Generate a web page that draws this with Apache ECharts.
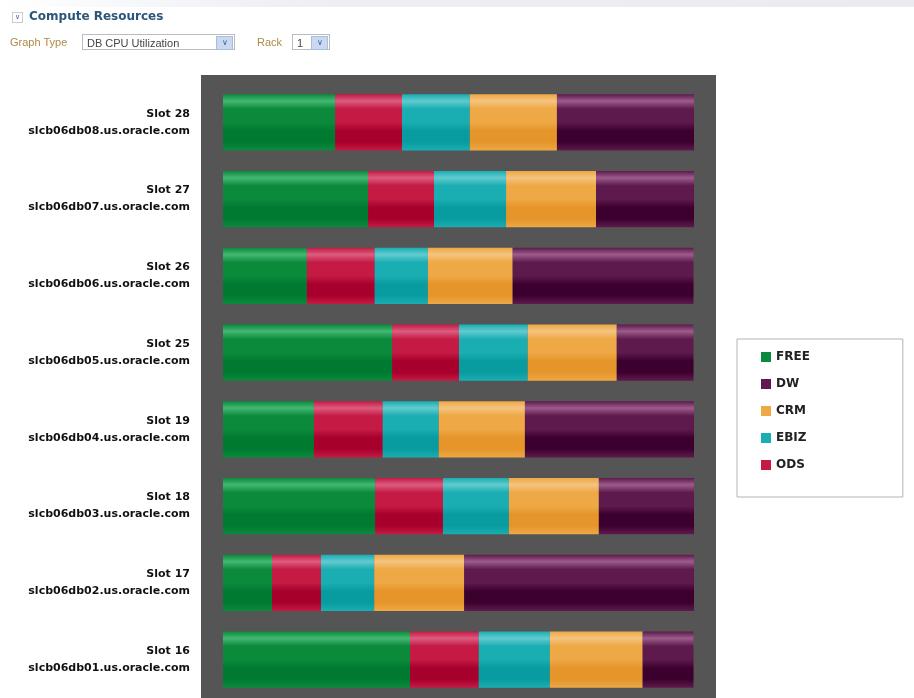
<!DOCTYPE html>
<html>
<head>
<meta charset="utf-8">
<script src="https://cdn.jsdelivr.net/npm/echarts@6/dist/echarts.min.js"></script>
<style>
    html, body { margin: 0; padding: 0; background: #ffffff; }
    #wrap { position: relative; width: 914px; height: 698px; overflow: hidden; }
    #chart { position: absolute; left: 0; top: 0; width: 914px; height: 698px; }
    .topbar { position: absolute; left: 0; top: 0; width: 914px; height: 7px;
        background: linear-gradient(to right, #ffffff 0%, #eef0f4 30%, #e9ebf0 100%); }
    .head { position: absolute; left: 12px; top: 9px; font: bold 12px "DejaVu Sans", sans-serif; color: #2c5577; }
    .head .chev { display: inline-block; width: 9px; height: 9px; border: 1px solid #c9ccd2; font-size: 7px;
        line-height: 8px; text-align: center; color: #557; margin-right: 6px; vertical-align: 1px; font-weight: normal; }
    .lbl { position: absolute; top: 36px; font: 11px "Liberation Sans", sans-serif; color: #b08a45; }
    .sel { position: absolute; top: 34px; height: 16px; border: 1px solid #b8bcc4; background: #fff;
        font: 11px "Liberation Sans", sans-serif; color: #444; line-height: 16px; padding-left: 4px; box-sizing: border-box; }
    .sel .arr { position: absolute; right: 1px; top: 1px; width: 15px; height: 12px; background: #c9d9f0;
        border: 1px solid #a9bddd; font-size: 8px; line-height: 12px; text-align: center; color: #3c5f9a; }
</style>
</head>
<body>
<div id="wrap">
    <div id="chart"></div>
    <div class="topbar"></div>
    <div class="head"><span class="chev">&#8744;</span>Compute Resources</div>
    <div class="lbl" style="left: 10px">Graph Type</div>
    <div class="sel" style="left: 82px; width: 153px">DB CPU Utilization<span class="arr">&#8744;</span></div>
    <div class="lbl" style="left: 257px">Rack</div>
    <div class="sel" style="left: 292px; width: 38px">1<span class="arr">&#8744;</span></div>
</div>
<script>
    // 槽位（从上到下）
    var slots = ['Slot 28', 'Slot 27', 'Slot 26', 'Slot 25', 'Slot 19', 'Slot 18', 'Slot 17', 'Slot 16'];
    var hosts = ['slcb06db08.us.oracle.com', 'slcb06db07.us.oracle.com', 'slcb06db06.us.oracle.com',
        'slcb06db05.us.oracle.com', 'slcb06db04.us.oracle.com', 'slcb06db03.us.oracle.com',
        'slcb06db02.us.oracle.com', 'slcb06db01.us.oracle.com'];

    // CPU 占比 %
    var freeData = [23.8, 30.8, 17.8, 35.9, 19.3, 32.3, 10.4, 39.7];
    var odsData  = [14.2, 14.0, 14.4, 14.2, 14.6, 14.4, 10.4, 14.6];
    var ebizData = [14.4, 15.3, 11.3, 14.6, 11.9, 14.0, 11.3, 15.1];
    var crmData  = [18.5, 19.1, 18.0, 18.9, 18.3, 19.1, 19.1, 19.7];
    var dwData   = [29.1, 20.8, 38.4, 16.3, 35.9, 20.2, 48.8, 10.8];

    var legendOrder = ['FREE', 'DW', 'CRM', 'EBIZ', 'ODS'];

    var colors = {
        FREE: ['#0b8a3c', '#44b872', '#007a30'],
        ODS:  ['#c41a44', '#dc5c80', '#a8002c'],
        EBIZ: ['#1aaeb2', '#62cbcf', '#089ca0'],
        CRM:  ['#eea845', '#f4c47f', '#e5952a'],
        DW:   ['#5e1a4c', '#9c5c8c', '#3c002e']
    };

    function glossy(c) {
        return new echarts.graphic.LinearGradient(0, 0, 0, 1, [
            {offset: 0, color: c[0]},
            {offset: 0.12, color: c[1]},
            {offset: 0.26, color: c[0]},
            {offset: 0.5, color: c[0]},
            {offset: 0.65, color: c[2]},
            {offset: 0.85, color: c[2]},
            {offset: 1, color: c[0]}
        ]);
    }

    function mkSeries(name, data) {
        return {
            name: name,
            type: 'bar',
            stack: 'cpu',
            barCategoryGap: '27%',
            data: data,
            itemStyle: {color: glossy(colors[name])},
            emphasis: {disabled: true}
        };
    }

    var chart = echarts.init(document.getElementById('chart'));
    var option = {
        animation: false,
        grid: {left: 223, right: 220, top: 84, bottom: 0},
        graphic: [{
            type: 'rect',
            z: -10,
            shape: {x: 201, y: 75, width: 515, height: 625},
            style: {fill: '#555555'}
        }],
        legend: {
            orient: 'vertical',
            left: 737,
            top: 339,
            padding: [12, 93, 26, 24],
            itemWidth: 10,
            itemHeight: 10,
            itemGap: 15,
            borderColor: '#b4b4b4',
            borderWidth: 1,
            textStyle: {fontFamily: 'DejaVu Sans', fontWeight: 'bold', fontSize: 12, color: '#222'},
            data: legendOrder.map(function (n) {
                return {name: n, icon: 'rect', itemStyle: {color: colors[n][0]}};
            })
        },
        xAxis: {type: 'value', min: 0, max: 100, show: false},
        yAxis: {
            type: 'category',
            inverse: true,
            data: slots,
            axisLine: {show: false},
            axisTick: {show: false},
            axisLabel: {
                margin: 33,
                fontFamily: 'DejaVu Sans',
                fontWeight: 'bold',
                fontSize: 11,
                lineHeight: 17,
                color: '#111',
                align: 'right',
                formatter: function (v, i) {
                    return v + '\n' + hosts[i];
                }
            }
        },
        series: [
            mkSeries('FREE', freeData),
            mkSeries('ODS', odsData),
            mkSeries('EBIZ', ebizData),
            mkSeries('CRM', crmData),
            mkSeries('DW', dwData)
        ]
    };
    chart.setOption(option);
</script>
</body>
</html>
